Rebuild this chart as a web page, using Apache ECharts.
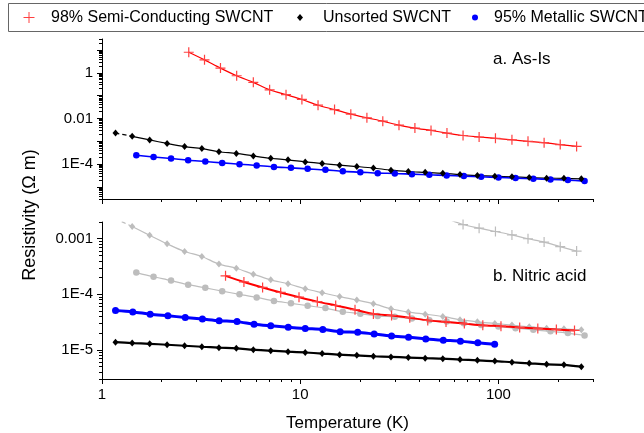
<!DOCTYPE html>
<html><head><meta charset="utf-8">
<script src="https://cdn.jsdelivr.net/npm/echarts@6/dist/echarts.min.js"></script>
<style>html,body{margin:0;padding:0;background:#fff}#c{width:644px;height:433px}</style>
</head><body><div id="c"></div><script>
// ---- data ----
const tempUnsorted = [1.17,1.42,1.74,2.13,2.61,3.19,3.89,4.76,5.80,7.10,8.68,10.6,12.9,15.8,19.3,23.4,28.7,35.1,42.7,52.4,64.0,78.3,95.9,117,143,175,214,262];
const rhoUnsortedAsIs = [2.29e-3,1.66e-3,1.15e-3,8.1e-4,5.9e-4,4.8e-4,3.5e-4,2.95e-4,2.3e-4,1.82e-4,1.55e-4,1.26e-4,1.07e-4,9.1e-5,7.9e-5,6.8e-5,5.5e-5,4.8e-5,4.4e-5,4.0e-5,3.5e-5,3.2e-5,3.0e-5,2.8e-5,2.6e-5,2.45e-5,2.4e-5,2.3e-5];
const rhoUnsortedHNO3 = [1.38e-5,1.33e-5,1.29e-5,1.24e-5,1.19e-5,1.14e-5,1.10e-5,1.07e-5,1.01e-5,9.7e-6,9.3e-6,9.0e-6,8.6e-6,8.2e-6,8.0e-6,7.7e-6,7.5e-6,7.3e-6,7.1e-6,6.95e-6,6.7e-6,6.5e-6,6.3e-6,6.0e-6,5.75e-6,5.5e-6,5.4e-6,5.0e-6];

const tempMetallicAsIs = [1.49,1.82,2.23,2.72,3.32,4.04,4.94,6.03,7.37,8.98,10.9,13.4,16.4,20.1,24.6,30.0,36.6,44.8,54.8,66.9,81.8,100,122,150,183,224,272];
const rhoMetallicAsIs = [2.46e-4,2.07e-4,1.77e-4,1.49e-4,1.31e-4,1.14e-4,1.0e-4,8.8e-5,7.6e-5,6.9e-5,6.25e-5,5.65e-5,4.86e-5,4.49e-5,4.06e-5,3.94e-5,3.67e-5,3.43e-5,3.23e-5,3.01e-5,2.81e-5,2.64e-5,2.46e-5,2.3e-5,2.16e-5,2.01e-5,1.82e-5];
const tempMetallicHNO3 = [1.17,1.43,1.75,2.15,2.63,3.21,3.90,4.80,5.85,7.10,8.70,10.6,13.0,15.9,19.5,23.6,28.9,35.2,43.0,52.7,64.3,78.7,95.7];
const rhoMetallicHNO3 = [5.1e-5,4.83e-5,4.4e-5,4.11e-5,3.84e-5,3.6e-5,3.36e-5,3.23e-5,2.89e-5,2.71e-5,2.56e-5,2.43e-5,2.33e-5,2.13e-5,2.09e-5,1.93e-5,1.78e-5,1.69e-5,1.58e-5,1.50e-5,1.44e-5,1.34e-5,1.26e-5];

const tempSemiAsIs = [2.74,3.29,3.96,4.78,5.80,7.01,8.48,10.2,12.3,14.9,18.0,21.7,26.1,31.5,37.9,45.7,55.0,66.3,79.9,96.6,117,141,170,205,248];
const rhoSemiAsIs = [7.9,3.67,1.6,0.74,0.38,0.18,0.11,0.068,0.038,0.0245,0.0155,0.0107,0.0076,0.0051,0.0038,0.0030,0.0023,0.0018,0.00155,0.00135,0.00117,0.0010,0.00087,0.00072,0.0006];
const tempSemiHNO3 = [4.20,5.20,6.46,7.97,9.86,12.2,15.1,18.9,23.4,28.9,35.7,44.0,54.4,67.3,83.4,103,128,158,196,242];
const rhoSemiHNO3 = [2.15e-4,1.67e-4,1.33e-4,1.08e-4,8.9e-5,7.4e-5,6.3e-5,5.3e-5,4.45e-5,4.16e-5,3.8e-5,3.4e-5,3.19e-5,2.98e-5,2.78e-5,2.67e-5,2.54e-5,2.43e-5,2.33e-5,2.24e-5];

const legendNames = ['98% Semi-Conducting SWCNT','Unsorted SWCNT','95% Metallic SWCNT'];
const xMajorTicks = [1,10,100];
const yTopLabelTicks = [1e-4,1e-2,1];
const yBottomLabelTicks = [1e-5,1e-4,1e-3];

// ---- helpers ----
const FONT = '"Liberation Sans", Arial, sans-serif';
const PLUS = 'path://M4.4,0H5.6V4.4H10V5.6H5.6V10H4.4V5.6H0V4.4H4.4Z';
const RED_MARK = '#ff4040';
const GRAY = '#bdbdbd';
const pts = (xs, ys) => xs.map((x, i) => [x, ys[i]]);
function decades(lo, hi) { const r = []; for (let e = lo; e <= hi; e++) r.push(Number(Math.pow(10, e).toPrecision(3))); return r; }
function minors(lo, hi, min, max) {
  const r = [];
  for (let e = lo; e <= hi; e++) for (let k = 2; k <= 9; k++) {
    const v = Number((k * Math.pow(10, e)).toPrecision(3));
    if (v >= min * 0.999 && v <= max * 1.001) r.push(v);
  }
  return r;
}
function fmt(v) {
  const e = Math.round(Math.log10(v));
  if (e <= -4) return '1E' + e;
  if (e < 0) return Number(Math.pow(10, e).toFixed(-e)).toString();
  return String(Math.round(Math.pow(10, e)));
}
const lineAx = { show: true, lineStyle: { color: '#000', width: 1 } };

function xAxes(grid, labels) {
  const all = xMajorTicks.concat(minors(0, 2, 1, 300)).sort((a, b) => a - b);
  return [
    { type: 'log', gridIndex: grid, min: 1, max: 300, position: 'bottom',
      axisLine: lineAx, splitLine: { show: false },
      axisTick: { show: true, inside: false, length: 3, customValues: all, lineStyle: { color: '#000' } },
      axisLabel: { show: labels, customValues: xMajorTicks, formatter: v => String(Math.round(v)), fontSize: 15, color: '#000', fontFamily: FONT, margin: 8 },
      name: labels ? 'Temperature (K)' : '', nameLocation: 'middle', nameGap: 36,
      nameTextStyle: { fontSize: 17, color: '#000', fontFamily: FONT } },
    { type: 'log', gridIndex: grid, min: 1, max: 300, position: 'bottom',
      axisLine: { show: false }, splitLine: { show: false },
      axisTick: { show: true, inside: false, length: 5, customValues: xMajorTicks, lineStyle: { color: '#000' } },
      axisLabel: { show: false } }
  ];
}
function yAxes(grid, min, max, lo, hi, labelTicks) {
  const majors = decades(lo, hi).filter(v => v >= min && v <= max);
  const all = majors.concat(minors(lo - 1, hi, min, max)).sort((a, b) => a - b);
  return [
    { type: 'log', gridIndex: grid, min: min, max: max, position: 'left',
      axisLine: lineAx, splitLine: { show: false },
      axisTick: { show: true, inside: false, length: 3, customValues: all, lineStyle: { color: '#000' } },
      axisLabel: { show: true, customValues: labelTicks, formatter: fmt, fontSize: 15, color: '#000', fontFamily: FONT, margin: 9 } },
    { type: 'log', gridIndex: grid, min: min, max: max, position: 'left',
      axisLine: { show: false }, splitLine: { show: false },
      axisTick: { show: true, inside: false, length: 5, customValues: majors, lineStyle: { color: '#000' } },
      axisLabel: { show: false } }
  ];
}

function lineSeries(opts) {
  return Object.assign({ type: 'line', smooth: 0.3, animation: false, silent: true, clip: true, z: 2 }, opts);
}

const series = [
  // ---- top panel: as-is ----
  lineSeries({ name: legendNames[0], xAxisIndex: 0, yAxisIndex: 0, data: pts(tempSemiAsIs, rhoSemiAsIs),
    symbol: PLUS, symbolSize: 10, itemStyle: { color: RED_MARK }, lineStyle: { color: '#ff0000', width: 1.2 } }),
  lineSeries({ name: legendNames[1], xAxisIndex: 0, yAxisIndex: 0, data: pts(tempUnsorted, rhoUnsortedAsIs),
    symbol: 'diamond', symbolSize: [6, 7], itemStyle: { color: '#000' }, lineStyle: { width: 0, opacity: 0 }, z: 3 }),
  lineSeries({ name: 'unsorted-fit', xAxisIndex: 0, yAxisIndex: 0, data: pts(tempUnsorted, rhoUnsortedAsIs).slice(1),
    symbol: 'none', lineStyle: { color: '#000', width: 1.2 } }),
  lineSeries({ name: 'unsorted-extrap', xAxisIndex: 0, yAxisIndex: 0, data: pts(tempUnsorted, rhoUnsortedAsIs).slice(0, 2),
    symbol: 'none', lineStyle: { color: '#000', width: 1.2, type: [4, 3] } }),
  lineSeries({ name: legendNames[2], xAxisIndex: 0, yAxisIndex: 0, data: pts(tempMetallicAsIs, rhoMetallicAsIs),
    symbol: 'circle', symbolSize: 6.5, itemStyle: { color: '#0000ff' }, lineStyle: { color: '#0000ff', width: 1.6 } }),

  // ---- bottom panel: as-is in gray ----
  lineSeries({ name: 'semi-asis-gray', xAxisIndex: 2, yAxisIndex: 2, data: pts(tempSemiAsIs, rhoSemiAsIs),
    symbol: PLUS, symbolSize: 10, itemStyle: { color: GRAY }, lineStyle: { color: GRAY, width: 1.2 } }),
  lineSeries({ name: 'metallic-asis-gray', xAxisIndex: 2, yAxisIndex: 2, data: pts(tempMetallicAsIs, rhoMetallicAsIs),
    symbol: 'circle', symbolSize: 6.5, itemStyle: { color: GRAY }, lineStyle: { color: GRAY, width: 1.2 } }),
  lineSeries({ name: 'unsorted-asis-gray', xAxisIndex: 2, yAxisIndex: 2, data: pts(tempUnsorted, rhoUnsortedAsIs).slice(1),
    symbol: 'diamond', symbolSize: [6, 7], itemStyle: { color: GRAY }, lineStyle: { color: GRAY, width: 1.2 } }),
  lineSeries({ name: 'unsorted-asis-gray-extrap', xAxisIndex: 2, yAxisIndex: 2, data: pts(tempUnsorted, rhoUnsortedAsIs).slice(0, 2),
    symbol: 'none', lineStyle: { color: GRAY, width: 1.2, type: [4, 3] } }),

  // ---- bottom panel: nitric acid ----
  lineSeries({ name: 'semi-hno3', xAxisIndex: 2, yAxisIndex: 2, data: pts(tempSemiHNO3, rhoSemiHNO3),
    symbol: PLUS, symbolSize: 10, itemStyle: { color: RED_MARK }, lineStyle: { color: '#ff0000', width: 2 }, z: 4 }),
  lineSeries({ name: 'metallic-hno3', xAxisIndex: 2, yAxisIndex: 2, data: pts(tempMetallicHNO3, rhoMetallicHNO3),
    symbol: 'circle', symbolSize: 7, itemStyle: { color: '#0000ff' }, lineStyle: { color: '#0000ff', width: 3 }, z: 4 }),
  lineSeries({ name: 'unsorted-hno3', xAxisIndex: 2, yAxisIndex: 2, data: pts(tempUnsorted, rhoUnsortedHNO3),
    symbol: 'diamond', symbolSize: [6, 7], itemStyle: { color: '#000' }, lineStyle: { color: '#000', width: 2.2 }, z: 4 })
];

// legend drawn as graphic elements (icon + text), inside a framed box
const LEG_Y = 17.5;
const legendText = (x, t) => ({ type: 'text', silent: true, x: x, y: LEG_Y,
  style: { text: t, fontSize: 16, fontFamily: FONT, fill: '#000', align: 'left', verticalAlign: 'middle' } });
const legendGraphic = [
  { type: 'rect', silent: true, shape: { x: 8.5, y: 3.5, width: 660, height: 28 }, style: { fill: '#fff', stroke: '#666', lineWidth: 1 } },
  { type: 'line', silent: true, shape: { x1: 23.5, y1: LEG_Y, x2: 34.5, y2: LEG_Y }, style: { stroke: RED_MARK, lineWidth: 1 } },
  { type: 'line', silent: true, shape: { x1: 29, y1: LEG_Y - 5.5, x2: 29, y2: LEG_Y + 5.5 }, style: { stroke: RED_MARK, lineWidth: 1 } },
  legendText(51, legendNames[0]),
  { type: 'polygon', silent: true, shape: { points: [[300, LEG_Y - 3.5], [303, LEG_Y], [300, LEG_Y + 3.5], [297, LEG_Y]] }, style: { fill: '#000' } },
  legendText(323, legendNames[1]),
  { type: 'circle', silent: true, shape: { cx: 475, cy: LEG_Y, r: 3 }, style: { fill: '#0000ff' } },
  legendText(494, legendNames[2])
];

const option = {
  animation: false,
  backgroundColor: '#fff',
  grid: [
    { left: 102, top: 39, width: 491, height: 160 },
    { left: 102, top: 222, width: 491, height: 161.5 }
  ],
  xAxis: [...xAxes(0, false), ...xAxes(1, true)],
  yAxis: [...yAxes(0, 3e-6, 30, -5, 1, yTopLabelTicks), ...yAxes(1, 3e-6, 2e-3, -5, -3, yBottomLabelTicks)],
  graphic: legendGraphic.concat([
    { type: 'text', silent: true, x: 493, y: 59, style: { text: 'a. As-Is', fontSize: 17, fontFamily: FONT, fill: '#000', align: 'left', verticalAlign: 'middle' } },
    { type: 'text', silent: true, x: 493, y: 276, style: { text: 'b. Nitric acid', fontSize: 17, fontFamily: FONT, fill: '#000', align: 'left', verticalAlign: 'middle' } },
    { type: 'text', silent: true, x: 30, y: 215, rotation: Math.PI / 2, style: { text: 'Resistivity (\u03A9 m)', fontSize: 18, fontFamily: FONT, fill: '#000', align: 'center', verticalAlign: 'middle' } }
  ]),
  series: series
};
const chart = echarts.init(document.getElementById('c'), null, { renderer: 'canvas' });
chart.setOption(option);
</script></body></html>
